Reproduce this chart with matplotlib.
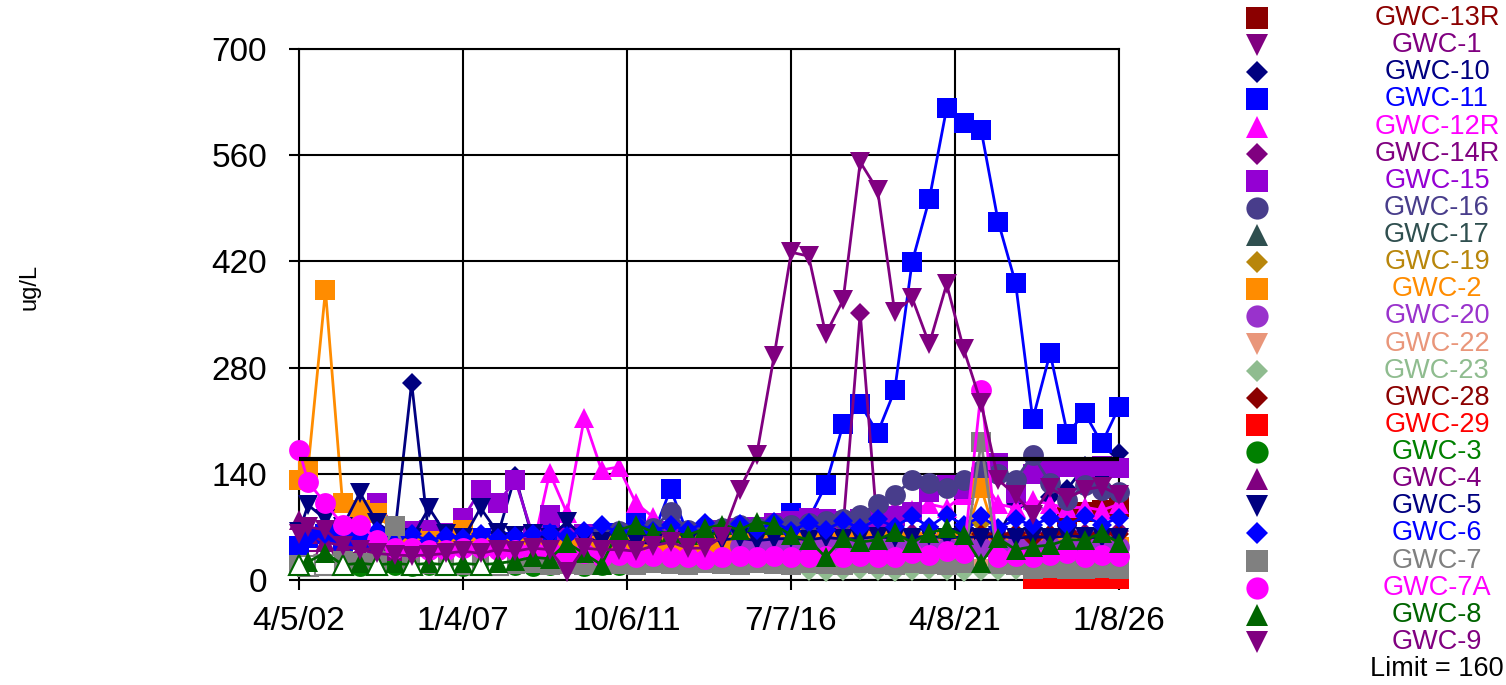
import numpy as np
import pandas as pd
import matplotlib
matplotlib.use('Agg')
import matplotlib.pyplot as plt

plt.rcParams['font.family'] = ['Liberation Sans', 'DejaVu Sans']

N = None

# sampling dates (semiannual)
dates = ['2002-04-05', '2002-07-10',
         '2003-01-10', '2003-07-10', '2004-01-10', '2004-07-10', '2005-01-10', '2005-07-10',
         '2006-01-10', '2006-07-10', '2007-01-10', '2007-07-10', '2008-01-10', '2008-07-10',
         '2009-01-10', '2009-07-10', '2010-01-10', '2010-07-10', '2011-01-10', '2011-07-10',
         '2012-01-10', '2012-07-10', '2013-01-10', '2013-07-10', '2014-01-10', '2014-07-10',
         '2015-01-10', '2015-07-10', '2016-01-10', '2016-07-10', '2017-01-10', '2017-07-10',
         '2018-01-10', '2018-07-10', '2019-01-10', '2019-07-10', '2020-01-10', '2020-07-10',
         '2021-01-10', '2021-07-10', '2022-01-10', '2022-07-10', '2023-01-10', '2023-07-10',
         '2024-01-10', '2024-07-10', '2025-01-10', '2025-07-10', '2026-01-08']

tick_dates = ['2002-04-05', '2007-01-04', '2011-10-06', '2016-07-07', '2021-04-08', '2026-01-08']
y_ticks = [0, 140, 280, 420, 560, 700]
limit = 160

GWC13R = [N]*45 + [85, 90, 92, 96]
GWC1 = [N, 25, 20, 22, 21, 20, 22, 21, 20, 22, 21, 20, 22, 20, 21, 22, 20, 21, 22, 20, 21] + [N]*28
GWC10 = [40, 55, 60, 52, 50, 55, 58, 260, 55, 50, 52, 55, 60, 137, 55, 58, 52, 50, 55, 52,
         50, 52, 55, 50, 52, 55, 50, 52, 55, 50, 52, 55, 50, 52, 55, 50, 52, 55, 50, 52,
         55, 60, 100, 95, 110, 120, 150, 135, 168]
GWC11 = [45, 55, 60, 50, 55, 50, 45, 48, 50, 45, 50, 55, 48, 50, 55, 60, 58, 60, 55, 62,
         75, 60, 120, 60, 55, 60, 65, 70, 75, 88, 80, 125, 205, 232, 194, 250, 419, 502, 622, 602,
         593, 472, 391, 212, 299, 193, 220, 180, 228]
GWC12R = [N]*12 + [30, 35, 40, 141, 88, 213, 145, 149, 101, 83, 60, 55, 50, 55, 60, 58, 62, 60,
                   65, 70, 80, 85, 90, 95, 92, 100, 95, 112, 136, 100, 95, 105, 100, 95, 96, 92, 100]
GWC14R = [N]*18 + [45, 50, 48, 52, 50, 55, 48, 52, 50, 55, 52, 58, 55, 60, 70, 352, 65, 60,
                   62, 58, 60, 65, 62, 60, 58, 62, 60, 65, 62, 60, 64]
GWC15 = [N]*5 + [101, 70, 65, 66, 62, 82, 119, 101, 132, 60, 86, 55, 60, 55, 58, 60, 62, 65, 60,
                 62, 66, 68, 70, 75, 78, 82, 80, 78, 80, 82, 85, 90, 116, 125, 120, 130, 154, 115,
                 140, 145, 149, 145, 150, 148]
GWC16 = [N]*18 + [62, 65, 70, 68, 90, 66, 70, 68, 72, 70, 74, 72, 75, 78, 80, 86, 100, 112,
                  132, 128, 121, 132, 145, 140, 132, 165, 128, 105, 125, 119, 116]
GWC17 = [N]*30 + [40, 42, 38, 44, 40, 42, 45, 40, 43, 41, 44, 40, 42, 45, 41, 43, 40, 42, 44]
GWC19 = [N]*28 + [35, 33, 36, 34, 35, 37, 33, 36, 34, 35, 38, 36, 75, 35, 34, 36, 33, 35, 34, 36, 35]
GWC2 = [132, 148, 382, 101, 92, 88, 62, 55, 52, 50, 66, 48, 45, 42, 40, 38, 40, 42, 45, 43,
        44, 46, 45, 47, 48, 46, 45, 49, 50, 55, 52, 50, 48, 50, 52, 49, 50, 48, 52, 50,
        121, 48, 45, 47, 44, 46, 45, 43, 44]
GWC20 = [N]*26 + [45, 44, 46, 45, 43, 47, 44, 45, 46, 44, 45, 47, 43, 46, 44, 45, 46, 44, 45, 43, 46, 45, 44]
GWC22 = [N]*30 + [15, 14, 16, 15, 14, 15, 16, 14, 15, 16, 14, 15, 16, 15, 14, 15, 16, 15, 14]
GWC23 = [N]*30 + [12, 11, 12, 13, 12, 11, 12, 13, 12, 11, 12, 12, 13, 12, 11, 12, 13, 12, 12]
GWC28 = [N]*40 + [60, 58, 62, 55, 60, 63, 58, 62, 60]
GWC29 = [N]*43 + [1, 1, 1, 1, 1, 1]
GWC3 = [20, 18, 22, 20, 19, 21, 20, 18, 20, 22, 19, 20, 21, 20, 18, 20, 21, 19, 20, 20] + [N]*29
GWC4 = [79, 60, 50, 45, 40, 42, 38, 40, 42] + [N]*40
GWC5 = [63, 99, 80, 70, 115, 75, 60, 55, 95, 60, 55, 95, 62, 58, 60, 55, 77, 55, 50, 52,
        50, 48, 50, 52, 50, 53, 55, 52, 54, 55, 53, 56, 54, 55, 57, 55, 56, 58, 55, 57,
        56, 58, 55, 57, 56, 58, 57, 55, 56]
GWC6 = [45, 55, 60, 70, 58, 65, 55, 60, 52, 58, 55, 60, 55, 58, 60, 62, 58, 65, 72, 63,
        75, 65, 72, 66, 75, 64, 74, 66, 76, 65, 75, 66, 78, 68, 80, 70, 84, 70, 86, 72,
        84, 68, 80, 72, 82, 72, 84, 73, 82]
GWC7 = [20, 18, 20, 25, 22, 25, 71, 20, 22, 20, 21, 22, 20, 21, 22, 20, 21, 20, 22, 21,
        20, 22, 21, 20, 22, 21, 20, 22, 21, 20, 22, 21, 20, 22, 21, 20, 22, 21, 20, 22,
        182, 21, 20, 15, 16, 15, 14, 16, 15]
GWC7A = [172, 129, 101, 73, 73, 53, 42, 42, 40, 40, 42, 42, 40, 40, 38, 38, 36, 35, 30, 33,
         30, 32, 30, 30, 28, 30, 32, 30, 32, 30, 30, 32, 30, 32, 30, 30, 35, 33, 38, 35,
         250, 30, 32, 30, 33, 35, 30, 33, 32]
GWC8 = [20, 24, 36, 20, 22, 20, 22, 20, 22, 20, 22, 20, 22, 25, 30, 28, 49, 35, 20, 66,
        73, 63, 62, 59, 68, 73, 66, 77, 73, 59, 53, 30, 56, 50, 53, 63, 49, 62, 68, 59,
        22, 55, 40, 44, 46, 53, 53, 62, 49]
GWC9 = [60, 70, 66, 45, 40, 35, 33, 32, 33, 35, 38, 35, 40, 38, 42, 40, 10, 42, 40, 40,
        38, 45, 50, 42, 42, 57, 119, 165, 295, 432, 427, 324, 369, 551, 514, 353, 372, 311, 390, 304,
        233, 132, 112, 86, 121, 108, 119, 123, 112]

# non-detect (hollow marker) sample indices
nd_gwc8 = [0, 3, 5, 7, 9, 11]
nd_gwc7 = [1, 2, 8, 10, 12]

series = [
    ('GWC-13R', GWC13R, '#8B0000', 's'),
    ('GWC-1', GWC1, '#800080', 'v'),
    ('GWC-10', GWC10, '#000080', 'D'),
    ('GWC-11', GWC11, '#0000FF', 's'),
    ('GWC-12R', GWC12R, '#FF00FF', '^'),
    ('GWC-14R', GWC14R, '#800080', 'D'),
    ('GWC-15', GWC15, '#9400D3', 's'),
    ('GWC-16', GWC16, '#483D8B', 'o'),
    ('GWC-17', GWC17, '#2F4F4F', '^'),
    ('GWC-19', GWC19, '#B8860B', 'D'),
    ('GWC-2', GWC2, '#FF8C00', 's'),
    ('GWC-20', GWC20, '#9932CC', 'o'),
    ('GWC-22', GWC22, '#E9967A', 'v'),
    ('GWC-23', GWC23, '#8FBC8F', 'D'),
    ('GWC-28', GWC28, '#8B0000', 'D'),
    ('GWC-29', GWC29, '#FF0000', 's'),
    ('GWC-3', GWC3, '#008000', 'o'),
    ('GWC-4', GWC4, '#800080', '^'),
    ('GWC-5', GWC5, '#000080', 'v'),
    ('GWC-6', GWC6, '#0000FF', 'D'),
    ('GWC-7', GWC7, '#808080', 's'),
    ('GWC-7A', GWC7A, '#FF00FF', 'o'),
    ('GWC-8', GWC8, '#006400', '^'),
    ('GWC-9', GWC9, '#800080', 'v'),
]
hollow = {'GWC-1': 'all', 'GWC-8': nd_gwc8, 'GWC-7': nd_gwc7}

msize = {'s': 15, 'o': 15, '^': 15, 'v': 15, 'D': 10.5}

t = pd.to_datetime(dates)

fig = plt.figure(figsize=(15.06, 6.85), dpi=100)
ax = fig.add_axes([299/1506, 105/685, 820/1506, 531/685])

for name, vals, col, mk in series:
    v = np.array([np.nan if x is None else x for x in vals], dtype=float)
    ok = ~np.isnan(v)
    mfc = 'white' if hollow.get(name) == 'all' else col
    # markers are not clipped at the axis edge (values near 0 hang below it)
    ax.plot(t[ok], v[ok], color=col, lw=2, marker=mk, ms=msize[mk],
            mfc=mfc, mec=col, mew=1.5 if mfc == 'white' else 0, zorder=3,
            clip_on=False)
    idx = hollow.get(name)
    if isinstance(idx, list):
        ax.plot(t[idx], v[idx], ls='none', marker=mk, ms=msize[mk],
                mfc='white', mec=col, mew=1.5, zorder=3, clip_on=False)

ax.axhline(limit, color='black', lw=3, zorder=4)

ticks = pd.to_datetime(tick_dates)
ax.set_xlim(ticks[0], ticks[-1])
ax.set_ylim(0, 700)
ax.set_xticks(ticks)
ax.set_xticklabels([f'{d.month}/{d.day}/{d:%y}' for d in ticks])
ax.set_yticks(y_ticks)
ax.grid(True, color='black', lw=1.5, zorder=0)
ax.set_axisbelow(True)
for s in ax.spines.values():
    s.set_linewidth(1.5)
ax.tick_params(axis='both', labelsize=24, length=7, width=1.5, direction='out')
ax.tick_params(axis='x', pad=12)
ax.tick_params(axis='y', pad=16)

fig.text(30/1506, 1 - 287/685, 'ug/L', rotation=90, fontsize=17, ha='center', va='center')

# legend column at right
lax = fig.add_axes([0, 0, 1, 1])
lax.set_xlim(0, 1506)
lax.set_ylim(685, 0)
lax.axis('off')
for i, (name, vals, col, mk) in enumerate(series):
    yy = 18 + 27.13 * i
    lax.plot([1257], [yy], ls='none', marker=mk, ms=msize[mk] + 1, color=col, mew=0)
    lax.text(1437, yy, name, color=col, fontsize=19.5, ha='center', va='center')
lax.text(1437, 18 + 27.13 * len(series), f'Limit = {limit}', color='black',
         fontsize=19.5, ha='center', va='center')

fig.savefig('out.png', dpi=100)
